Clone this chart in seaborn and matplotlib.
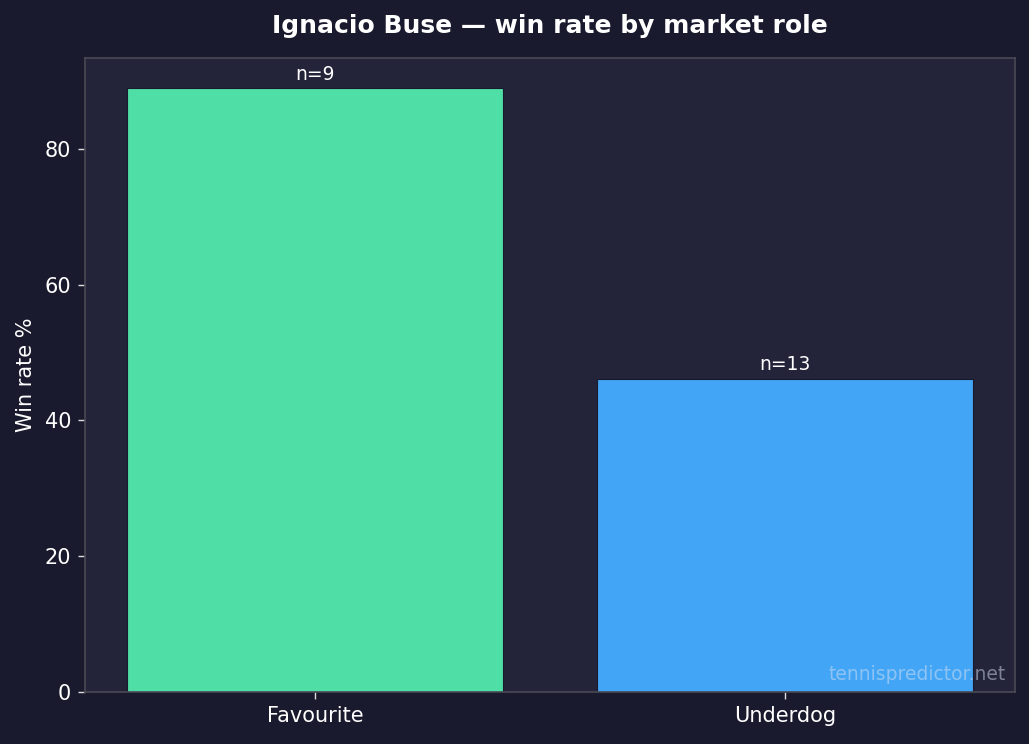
import matplotlib
matplotlib.use("Agg")
import matplotlib.pyplot as plt
import seaborn as sns
import pandas as pd

roles = ["Favourite", "Underdog"]
win_rates = [88.9, 46.15]
counts = [9, 13]
colors = ["#4fdea6", "#42a5f5"]

sns.set_theme(style="dark")
plt.rcParams["font.family"] = ["DejaVu Sans"]

fig = plt.figure(figsize=(10.29, 7.44), dpi=100, facecolor="#1a1a2e")
ax = fig.add_axes([0.0826, 0.0699, 0.9038, 0.852])
ax.set_facecolor("#23233a")

df = pd.DataFrame({"role": roles, "rate": win_rates})
sns.barplot(data=df, x="role", y="rate", hue="role", palette=colors,
            saturation=1, legend=False, ax=ax, width=0.8,
            edgecolor="#1a1a2e", linewidth=0.8)

for i, (r, n) in enumerate(zip(win_rates, counts)):
    ax.annotate(f"n={n}", (i, r), xytext=(0, 3), textcoords="offset points",
                ha="center", va="bottom", color="white", fontsize=13.5)

ax.set_ylim(0, max(win_rates) * 1.05)
ax.set_xlim(-0.49, 1.49)
ax.set_xlabel("")
ax.set_ylabel("Win rate %", color="white", fontsize=15, labelpad=6)
ax.tick_params(colors="white", labelsize=15, length=5, width=1, pad=5)
ax.tick_params(axis="both", which="major", bottom=True, left=True, color="#dddddd")
for s in ax.spines.values():
    s.set_color("#4a4a55")
    s.set_linewidth(1.2)
    s.set_visible(True)
ax.grid(False)
ax.set_yticks([0, 20, 40, 60, 80])

ax.set_title("Ignacio Buse — win rate by market role", color="white",
             fontsize=18, fontweight="bold", pad=18)
ax.text(0.99, 0.012, "tennispredictor.net", transform=ax.transAxes,
        ha="right", va="bottom", color="#d8e2f4", alpha=0.5, fontsize=13.5)

fig.savefig("out.png", dpi=100, facecolor=fig.get_facecolor())
